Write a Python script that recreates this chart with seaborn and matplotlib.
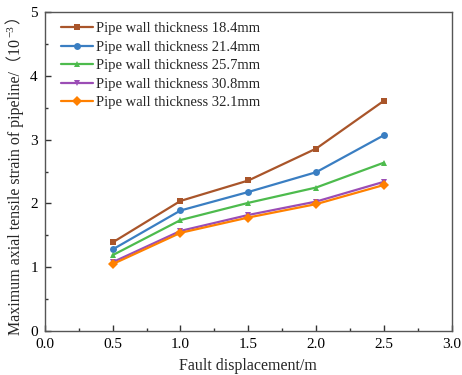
import numpy as np
import pandas as pd
import matplotlib
matplotlib.use("Agg")
import matplotlib.pyplot as plt
import seaborn as sns
from matplotlib.ticker import MultipleLocator

displacement = [0.5, 1.0, 1.5, 2.0, 2.5]
labels = ["Pipe wall thickness 18.4mm", "Pipe wall thickness 21.4mm",
          "Pipe wall thickness 25.7mm", "Pipe wall thickness 30.8mm",
          "Pipe wall thickness 32.1mm"]
s184 = [1.39, 2.04, 2.36, 2.86, 3.61]
s214 = [1.28, 1.89, 2.18, 2.49, 3.07]
s257 = [1.19, 1.74, 2.01, 2.25, 2.64]
s308 = [1.08, 1.57, 1.82, 2.03, 2.34]
s321 = [1.05, 1.54, 1.78, 1.99, 2.29]
series = [s184, s214, s257, s308, s321]

colors = ["#A9552A", "#3A7EC2", "#4DBB4D", "#9B4DB5", "#FF8000"]
markers = ["s", "o", "^", "v", "D"]

rows = []
for lab, vals in zip(labels, series):
    for x, y in zip(displacement, vals):
        rows.append({"x": x, "y": y, "series": lab})
df = pd.DataFrame(rows)

sns.set_theme(style="ticks")
FAM = ["Liberation Serif", "Noto Sans CJK SC"]
plt.rcParams["font.family"] = FAM

fig = plt.figure(figsize=(4.62, 3.75), dpi=100)
ax = fig.add_axes([0.097, 0.117, 0.881, 0.851])

sns.lineplot(data=df, x="x", y="y", hue="series", style="series",
             palette=colors, markers=markers, dashes=False,
             markersize=5, linewidth=1.6, markeredgewidth=0, ax=ax)

ax.set_xlim(0, 3.0)
ax.set_ylim(0, 5)
ax.xaxis.set_major_locator(MultipleLocator(0.5))
ax.xaxis.set_minor_locator(MultipleLocator(0.25))
ax.yaxis.set_major_locator(MultipleLocator(1))
ax.yaxis.set_minor_locator(MultipleLocator(0.5))
ax.xaxis.set_major_formatter(matplotlib.ticker.FormatStrFormatter("%.1f"))
ax.tick_params(which="both", direction="in", top=False, right=False,
               labelsize=11, colors="#333333", labelcolor="black")
ax.tick_params(which="major", length=4, width=1)
ax.tick_params(which="minor", length=2.5, width=1)
ax.tick_params(axis="y", pad=5)
ax.tick_params(axis="x", pad=5)
for sp in ax.spines.values():
    sp.set_color("#555555")
    sp.set_linewidth(1.0)

ax.set_xlabel("Fault displacement/m", fontsize=11.5, labelpad=5)
ax.set_ylabel("")

leg = ax.legend(loc="upper left", frameon=False, fontsize=10.5,
                handlelength=2.2, handletextpad=0.2, labelspacing=0.36,
                borderaxespad=0.3, bbox_to_anchor=(0.015, 1.0))

# y label built in pieces so the full-width brackets and superscript render
W, H = fig.get_size_inches() * fig.dpi
xc = 15 / W
fsz = 11.5
tA = fig.text(xc, 0, "Maximum axial tensile strain of pipeline/（10", rotation=90,
              ha="center", va="bottom", fontsize=fsz, family=FAM)
tS = fig.text(xc - 4 / W, 0, "−3", rotation=90, ha="center", va="bottom",
              fontsize=8, family=FAM)
tC = fig.text(xc, 0, "）", rotation=90, ha="center", va="bottom",
              fontsize=fsz, family=FAM)
fig.canvas.draw()
r = fig.canvas.get_renderer()
hA = tA.get_window_extent(r).height
hS = tS.get_window_extent(r).height
hC = tC.get_window_extent(r).height
gap = 1.5
total = hA + hS + hC + 2 * gap
ymid = (0.117 + 0.851 / 2) * H
y0 = ymid - total / 2
tA.set_y(y0 / H)
tS.set_y((y0 + hA + gap) / H)
tC.set_y((y0 + hA + hS + 2 * gap) / H)

fig.savefig("out.png", dpi=100)
